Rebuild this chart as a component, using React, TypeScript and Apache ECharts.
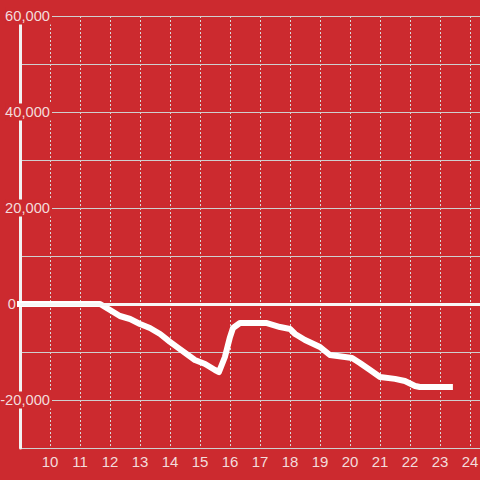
import React, { useEffect, useRef } from "react";
import * as echarts from "echarts";

const hours = [9, 11.67, 12.0, 12.33, 12.67, 13.0, 13.33, 13.67, 14.0, 14.33, 14.83, 15.17, 15.5, 15.63, 15.83, 16.0, 16.1, 16.33, 17.23, 17.67, 18.0, 18.17, 18.5, 19.0, 19.33, 19.83, 20.07, 20.33, 20.67, 21.0, 21.5, 21.83, 22.17, 22.33, 23.33];
const values = [0, 0, -1250, -2500, -3125, -4170, -5000, -6250, -7900, -9400, -11670, -12500, -13750, -14170, -11040, -6900, -5000, -3960, -3960, -4800, -5200, -6250, -7500, -8960, -10625, -11040, -11250, -12290, -13750, -15200, -15600, -16040, -17080, -17300, -17300];
const yLabelValues = [60000, 40000, 20000, 0, -20000];

const BG = "#cc2a2f";
const TEXT = "#f3dcdc";

export default function App() {
  const ref = useRef<HTMLDivElement>(null);
  useEffect(() => {
    if (!ref.current) return;
    const chart = echarts.init(ref.current, null, { renderer: "svg" });
    const data = hours.map((h, i) => [h, values[i]]);
    chart.setOption({
      animation: false,
      backgroundColor: BG,
      textStyle: { fontFamily: "Liberation Sans, Arial, sans-serif" },
      grid: { left: 20, right: 0, top: 16, bottom: 32, containLabel: false, outerBoundsMode: "none" },
      xAxis: {
        type: "value",
        min: 9,
        max: 9 + 460 / 30,
        interval: 1,
        axisLine: { show: false },
        axisTick: { show: false },
        axisLabel: {
          color: TEXT,
          fontSize: 15,
          margin: 6,
          formatter: (v: number) => (Number.isInteger(v) && v > 9 ? String(v) : ""),
        },
        splitLine: { show: true, lineStyle: { color: "#d9d9d9", width: 1, type: [2, 2] } },
      },
      yAxis: {
        type: "value",
        z: 1,
        min: -30000,
        max: 60000,
        interval: 10000,
        axisLine: { show: true, lineStyle: { color: "#f2f2f2", width: 3 } },
        axisTick: { show: false },
        splitLine: { show: true, lineStyle: { color: "#cfcfcf", width: 1 } },
        axisLabel: {
          margin: -32,
          align: "right",
          color: TEXT,
          fontSize: 14.7,
          formatter: (v: number) => {
            if (!yLabelValues.includes(v)) return "";
            if (v === 0) return "{z|0}";
            return "{a|" + v.toLocaleString("en-US") + "}";
          },
          rich: {
            a: { color: TEXT, fontSize: 14.7, backgroundColor: BG, padding: [1, 2, 1, 0] },
            z: { color: TEXT, fontSize: 14.7, padding: [0, 36, 0, 0] },
          },
        },
      },
      series: [
        {
          type: "line",
          data,
          showSymbol: false,
          symbol: "none",
          smooth: false,
          lineStyle: { color: "#ffffff", width: 6, cap: "square", join: "round" },
          markLine: {
            silent: true,
            symbol: "none",
            label: { show: false },
            lineStyle: { color: "#f7f7f7", width: 3, type: "solid" },
            data: [{ yAxis: 0 }],
          },
        },
      ],
    });
    return () => chart.dispose();
  }, []);
  return <div ref={ref} style={{ width: 480, height: 480, position: "absolute", left: 0, top: 0 }} />;
}
